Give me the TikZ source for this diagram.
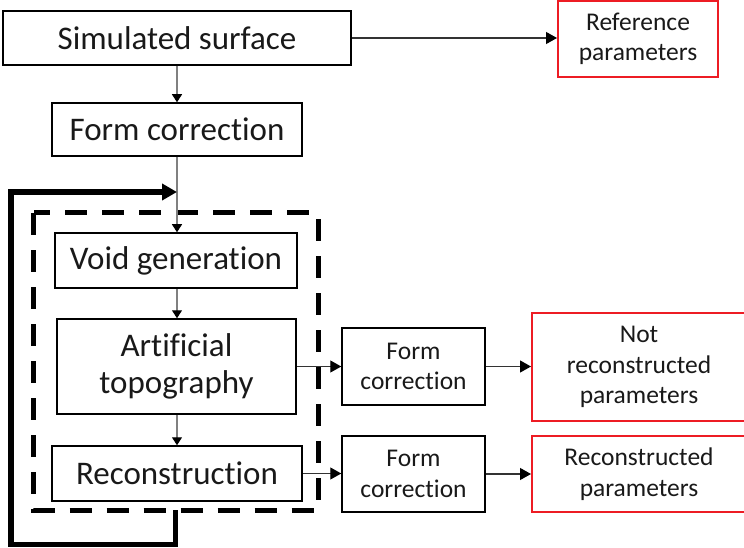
\documentclass[tikz,border=0pt]{standalone}
\usepackage{fontspec}
\setmainfont{Carlito}[Ligatures={NoCommon,NoContextual}]
\usetikzlibrary{arrows.meta}
\definecolor{boxred}{RGB}{237,28,36}
\definecolor{linkgray}{RGB}{128,128,128}
\tikzset{
  bigtext/.style={font=\fontsize{33}{37}\selectfont},
  smalltext/.style={font=\fontsize{25.5}{30.5}\selectfont},
  box/.style={draw=black, line width=1.5pt, rectangle, inner sep=0pt, align=center, text=black!90},
  redbox/.style={draw=boxred, line width=2pt, rectangle, inner sep=0pt, align=center, text=black!90},
  downlink/.style={draw=linkgray, line width=1.2pt, -{Triangle[length=8pt,width=10pt,black]}},
  sidelink/.style={draw=black!80, line width=1.2pt, -{Triangle[length=11pt,width=12pt,black]}},
  loopline/.style={draw=black, line width=5.5pt, -{Triangle[length=15pt,width=16pt]}},
  groupframe/.style={draw=black, line width=5pt, dash pattern=on 22pt off 15pt}
}
\begin{document}
\begin{tikzpicture}[x=1pt,y=-1pt]
\useasboundingbox (0,0) rectangle (744,548);

% main chain
\node[box, bigtext, minimum width=348pt, minimum height=54pt] (sim) at (177,38) {Simulated surface};
\node[box, bigtext, minimum width=250pt, minimum height=53pt] (fc0) at (177,129.5) {Form correction};
\node[box, bigtext, minimum width=242pt, minimum height=55pt] (void) at (176,260.5) {Void generation};
\node[box, bigtext, minimum width=239pt, minimum height=95pt] (art) at (176.5,366.5) {Artificial\\topography};
\node[box, bigtext, minimum width=250pt, minimum height=55pt] (rec) at (177,473.5) {Reconstruction};

% side branches
\node[box, smalltext, minimum width=143pt, minimum height=77pt] (fc1) at (413.5,366.5) {Form\\correction};
\node[box, smalltext, minimum width=143pt, minimum height=76pt] (fc2) at (413.5,474) {Form\\correction};

% parameter outputs
\node[redbox, smalltext, minimum width=160pt, minimum height=76pt] (ref) at (638,39) {Reference\\parameters};
\node[redbox, smalltext, minimum width=214pt, minimum height=108pt] (nrp) at (639,367) {Not\\reconstructed\\parameters};
\node[redbox, smalltext, minimum width=214pt, minimum height=76pt] (rp) at (639,474) {Reconstructed\\parameters};

% dashed frame around the repeated steps
\draw[groupframe] (33.5,213) rectangle (318,510);

% vertical flow
\draw[downlink] (sim.south) -- (sim.south |- fc0.north);
\draw[downlink] (fc0.south) -- (fc0.south |- void.north);
\draw[downlink] (void.south -| fc0.south) -- (fc0.south |- art.north);
\draw[downlink] (art.south -| fc0.south) -- (fc0.south |- rec.north);

% horizontal flow
\draw[sidelink] (sim.east) -- (sim.east -| ref.west);
\draw[sidelink] (art.east) -- (art.east -| fc1.west);
\draw[sidelink] (rec.east) -- (rec.east -| fc2.west);
\draw[sidelink] (fc1.east) -- (fc1.east -| nrp.west);
\draw[sidelink] (fc2.east) -- (fc2.east -| rp.west);

% iteration loop
\coordinate (loopin) at (175.5,510);
\coordinate (loopout) at (177,192);
\draw[loopline] (loopin) -- (175.5,544.5) -- (11,544.5) -- (11,192) -- (loopout);
\end{tikzpicture}
\end{document}
